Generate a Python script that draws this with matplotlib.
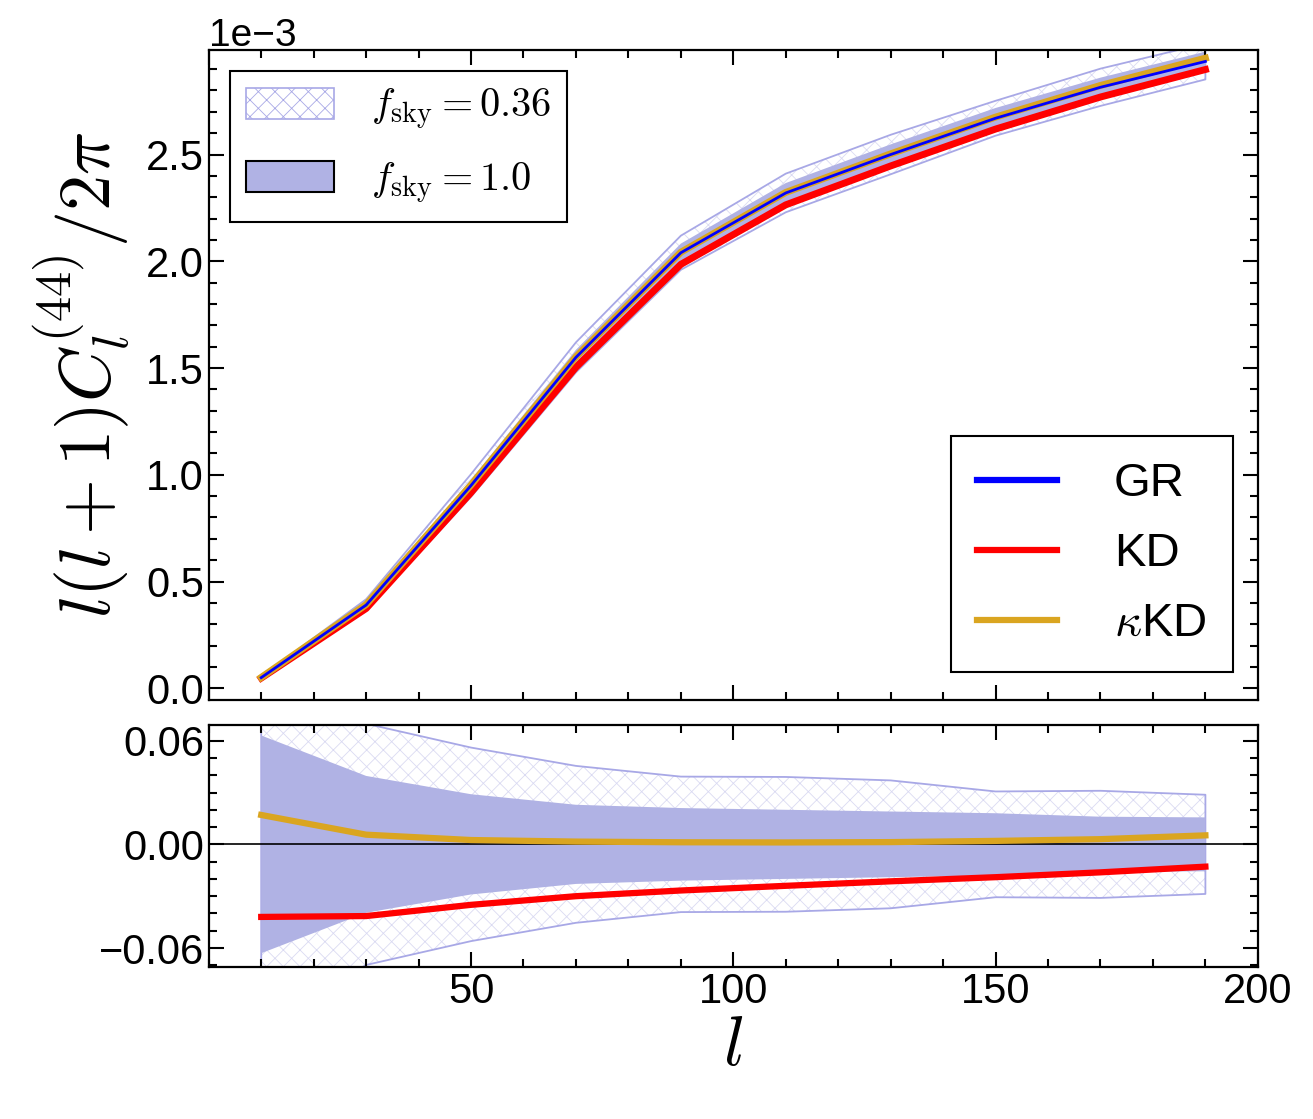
import numpy as np
import matplotlib
matplotlib.use("Agg")
import matplotlib.pyplot as plt
from matplotlib.patches import Patch
from matplotlib.lines import Line2D
from matplotlib.ticker import MultipleLocator

plt.rcParams['font.family'] = ['Liberation Sans', 'DejaVu Sans']
plt.rcParams['mathtext.fontset'] = 'cm'
plt.rcParams['hatch.linewidth'] = 0.6

# multipoles
ell = np.array([10, 30, 50, 70, 90, 110, 130, 150, 170, 190])

# GR spectrum l(l+1)C_l/2pi
cl_gr = np.array([0.050, 0.390, 0.950, 1.550, 2.040, 2.320, 2.500, 2.670, 2.815, 2.936]) * 1e-3

# relative differences to GR (bottom panel)
rel_kd = np.array([-0.042, -0.0415, -0.035, -0.030, -0.0267, -0.0240, -0.0214, -0.0190, -0.0162, -0.0129])
rel_kkd = np.array([0.017, 0.0056, 0.0025, 0.0016, 0.0012, 0.0011, 0.0013, 0.0020, 0.0030, 0.0052])

# relative errors
err_full = np.array([0.063, 0.0396, 0.029, 0.0229, 0.021, 0.020, 0.019, 0.0180, 0.0160, 0.0156])
err_036 = np.array([0.105, 0.0698, 0.056, 0.0454, 0.0392, 0.039, 0.037, 0.0306, 0.031, 0.0287])

cl_kd = cl_gr * (1 + rel_kd)
cl_kkd = cl_gr * (1 + rel_kkd)

c_solid = '#b0b2e4'
c_hatch = '#dadaf2'
c_edge = '#a8a8e6'

fig = plt.figure(figsize=(13.13, 11.19), dpi=100)
ax1 = fig.add_axes([0.159, 0.3744, 0.799, 0.581])
ax2 = fig.add_axes([0.159, 0.1358, 0.799, 0.2162])

def band(ax, lo, hi):
    ax.fill_between(ell, lo[1], hi[1], facecolor='white', edgecolor=c_hatch, hatch='xx', lw=0)
    ax.fill_between(ell, lo[1], hi[1], facecolor='none', edgecolor=c_edge, lw=1.3)
    ax.fill_between(ell, lo[0], hi[0], facecolor=c_solid, edgecolor='none', lw=0)

# top panel
band(ax1, (cl_gr * (1 - err_full), cl_gr * (1 - err_036)), (cl_gr * (1 + err_full), cl_gr * (1 + err_036)))
ax1.plot(ell, cl_kd, color='red', lw=5)
ax1.plot(ell, cl_kkd, color='goldenrod', lw=5)
ax1.plot(ell, cl_gr, color='blue', lw=2)

# bottom panel
band(ax2, (-err_full, -err_036), (err_full, err_036))
ax2.axhline(0, color='black', lw=1.2)
ax2.plot(ell, rel_kkd, color='goldenrod', lw=4.5)
ax2.plot(ell, rel_kd, color='red', lw=4.5)

for ax in (ax1, ax2):
    ax.set_xlim(0, 200)
    ax.xaxis.set_major_locator(MultipleLocator(50))
    ax.xaxis.set_minor_locator(MultipleLocator(10))
    ax.tick_params(which='both', direction='in', top=True, right=True, labelsize=30, width=1.5)
    ax.tick_params(which='major', length=11)
    ax.tick_params(which='minor', length=6)
    for s in ax.spines.values():
        s.set_linewidth(1.6)

ax1.set_ylim(-0.055e-3, 2.99e-3)
ax1.yaxis.set_major_locator(MultipleLocator(0.5e-3))
ax1.yaxis.set_minor_locator(MultipleLocator(0.1e-3))
ax1.ticklabel_format(axis='y', style='sci', scilimits=(0, 0))
ax1.tick_params(labelbottom=False)
ax1.yaxis.get_offset_text().set_fontsize(28)
ax1.set_ylabel(r'$l(l+1)C_l^{(44)}/2\pi$', fontsize=52, labelpad=10)

ax2.set_ylim(-0.071, 0.069)
ax2.yaxis.set_minor_locator(MultipleLocator(0.01))
ax2.set_yticks([-0.06, 0.0, 0.06])
ax2.set_yticklabels(['\u22120.06', '0.00', '0.06'])
ax2.set_xticks([50, 100, 150, 200])
ax2.set_xlabel(r'$l$', fontsize=50, labelpad=2)

h1 = [Patch(facecolor='white', edgecolor=c_edge, hatch='xx', lw=1.2),
      Patch(facecolor=c_solid, edgecolor='black', lw=1.5)]
leg1 = ax1.legend(h1, [r'$f_{\rm sky}=0.36$', r'$f_{\rm sky}=1.0$'], loc='upper left',
                  bbox_to_anchor=(0.02, 0.968), fontsize=29, fancybox=False, framealpha=1,
                  edgecolor='black', handlelength=2.2, handleheight=0.8, handletextpad=0.9,
                  labelspacing=0.7, borderpad=0.4, borderaxespad=0)
leg1.get_frame().set_linewidth(1.5)
ax1.add_artist(leg1)

h2 = [Line2D([], [], color='blue', lw=4.5), Line2D([], [], color='red', lw=4.5),
      Line2D([], [], color='goldenrod', lw=4.5)]
leg2 = ax1.legend(h2, ['GR', 'KD', r'$\kappa$KD'], loc='lower right',
                  bbox_to_anchor=(0.976, 0.043), fontsize=34, fancybox=False, framealpha=1,
                  edgecolor='black', handlelength=1.7, handletextpad=1.2,
                  labelspacing=0.55, borderpad=0.55, borderaxespad=0)
leg2.get_frame().set_linewidth(1.5)

fig.savefig('out.png', dpi=100)
